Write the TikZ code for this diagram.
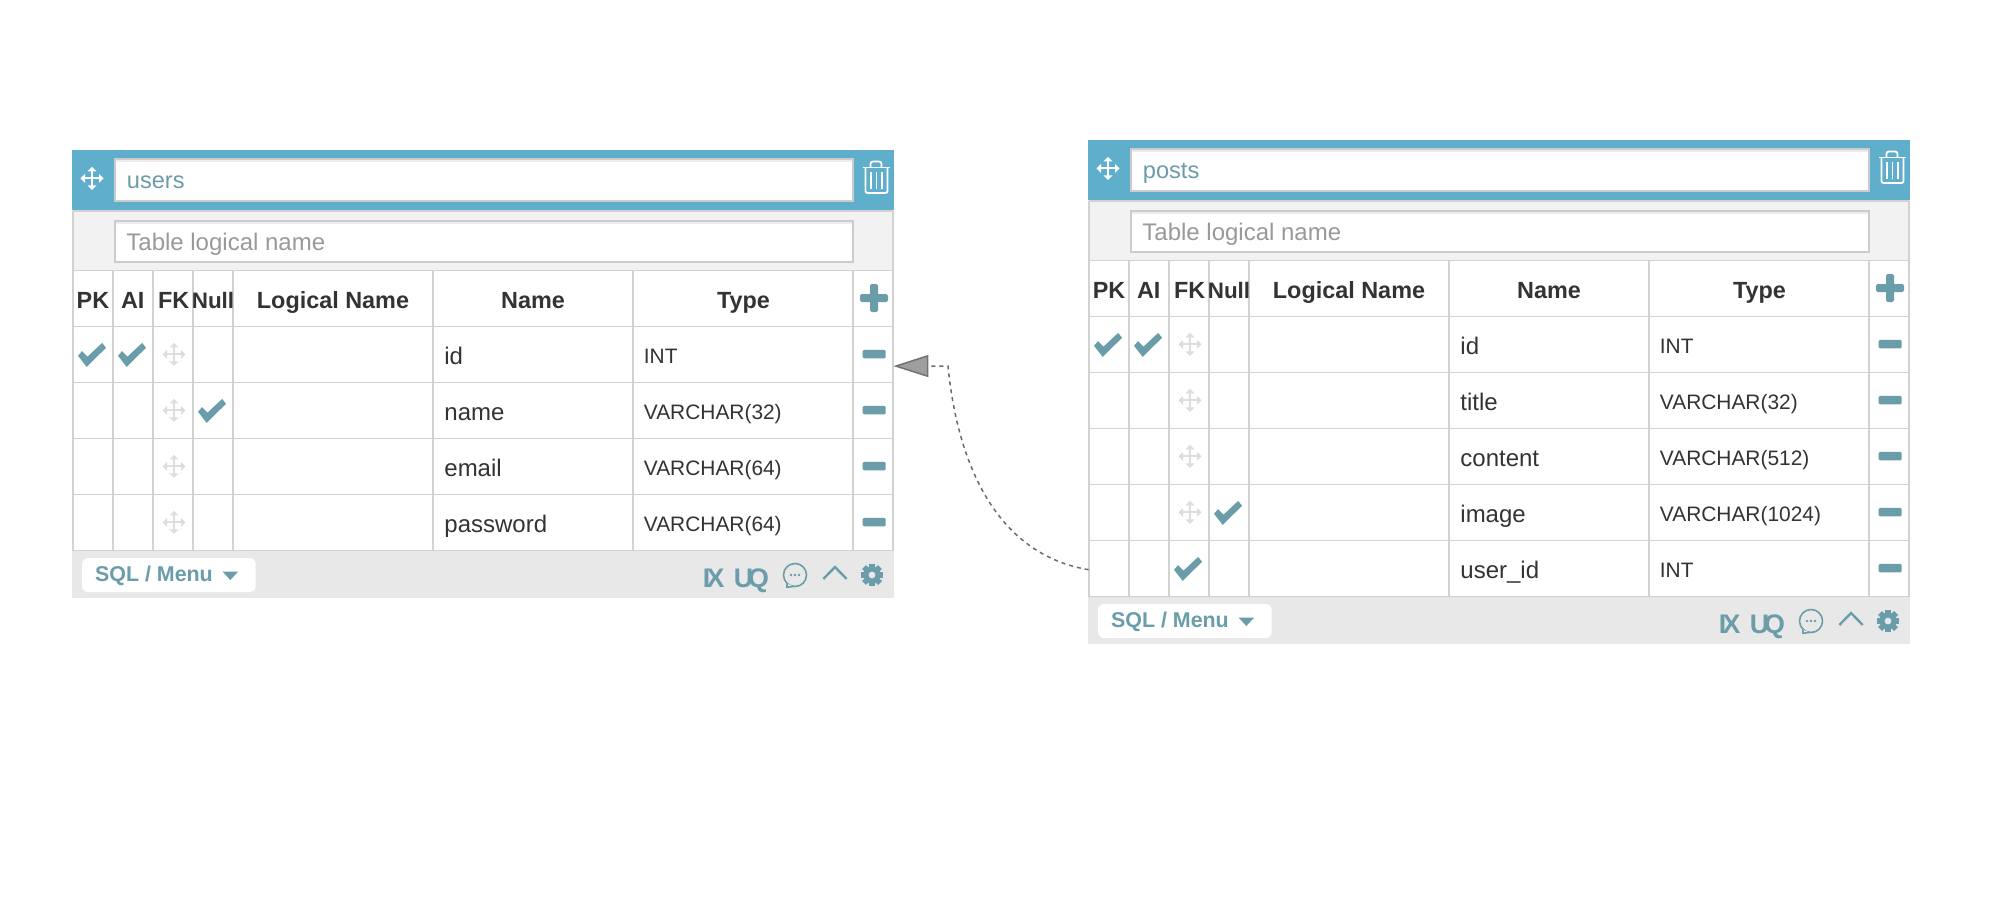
\documentclass[tikz,border=0pt]{standalone}
\usepackage{fontspec}
\setmainfont{Liberation Sans}
\usetikzlibrary{arrows.meta}
\definecolor{barblue}{HTML}{5FAECB}
\definecolor{tealink}{HTML}{6A9DA9}
\definecolor{gridgrey}{HTML}{D2D2D2}
\definecolor{inkdark}{HTML}{333333}
\definecolor{holdergrey}{HTML}{999999}
\definecolor{subbg}{HTML}{F2F2F2}
\definecolor{footbg}{HTML}{E8E8E8}
\definecolor{moveicon}{HTML}{DDDDDD}
\definecolor{inputline}{HTML}{CCCCCC}
\definecolor{inputshade}{HTML}{ECECEC}
\tikzset{
  gridline/.style={draw=gridgrey,line width=.75pt},
  inputbox/.style={fill=white,draw=inputline,line width=1pt},
  lefttext/.style={inner sep=0pt,anchor=base west,text=inkdark},
  midtext/.style={inner sep=0pt,anchor=base,text=inkdark},
  headfont/.style={font=\fontsize{11.7pt}{13pt}\selectfont\bfseries},
  nullfont/.style={font=\fontsize{11.2pt}{13pt}\selectfont\bfseries},
  bodyfont/.style={font=\fontsize{12pt}{14pt}\selectfont},
  typefont/.style={font=\fontsize{10.45pt}{13pt}\selectfont},
  inputfont/.style={font=\fontsize{11.8pt}{14pt}\selectfont},
  holderfont/.style={font=\fontsize{12pt}{14pt}\selectfont},
  tealbold/.style={inner sep=0pt,anchor=base west,text=tealink,font=\fontsize{13.4pt}{15pt}\selectfont\bfseries},
  rowbox/.style={inner sep=0pt,minimum width=410pt,minimum height=28pt},
  relation/.style={draw=black!58,line width=.75pt,dash pattern=on 2pt off 2pt},
}
% four-way arrow icon
\newcommand{\moveglyph}[3]{%
  \begin{scope}[shift={(#1,#2)}]
    \fill[#3] (-9,-1) rectangle (9,1);
    \fill[#3] (-1,-9) rectangle (1,9);
    \fill[#3] (-11.5,0) -- (-7,-4.5) -- (-7,4.5) -- cycle;
    \fill[#3] (11.5,0) -- (7,-4.5) -- (7,4.5) -- cycle;
    \fill[#3] (0,-11.5) -- (-4.5,-7) -- (4.5,-7) -- cycle;
    \fill[#3] (0,11.5) -- (-4.5,7) -- (4.5,7) -- cycle;
  \end{scope}}
% check mark: given top-left corner
\newcommand{\checkglyph}[2]{%
  \fill[tealink,shift={(#1,#2)}] (0,12.7) -- (4,8) -- (9.5,13.5) -- (24.2,-.2) -- (28,4.7) -- (8.7,23.8) -- cycle;}
\newcommand{\minusglyph}[2]{%
  \fill[tealink,rounded corners=.6pt] (#1-11.5,#2-4.2) rectangle (#1+11.5,#2+4.2);}
\newcommand{\plusglyph}[2]{%
  \fill[tealink,rounded corners=.8pt] (#1-14,#2-4) rectangle (#1+14,#2+4);
  \fill[tealink,rounded corners=.8pt] (#1-4,#2-14) rectangle (#1+4,#2+14);}
\newcommand{\trashglyph}{%
  \begin{scope}[white,line width=.9pt]
    \draw (862.5,167.5) -- (890,167.5);
    \draw[rounded corners=1.2pt] (870.5,167) -- (870.5,161.5) -- (881.5,161.5) -- (881.5,167);
    \draw[rounded corners=1pt] (865.5,167.5) -- (865.5,193) -- (887.5,193) -- (887.5,167.5);
    \draw (871,172) -- (871,189) (876.5,172) -- (876.5,189) (882,172) -- (882,189);
  \end{scope}}
% one table row: prefix, index, name, type, pk, ai, fk, null
\newcommand{\erow}[8]{%
  \pgfmathsetmacro{\rowtop}{326.7+56*#2}
  \pgfmathsetmacro{\rowmid}{\rowtop+28}
  \pgfmathsetmacro{\rowbase}{\rowmid+9.3}
  \pgfmathsetmacro{\typebase}{\rowmid+8.5}
  \pgfmathsetmacro{\rowchk}{\rowtop+16.4}
  \node[rowbox] (#1-row#2) at (483,\rowmid) {};
  \node[lefttext,bodyfont] (#1-row#2-name) at (444,\rowbase) {#3};
  \node[lefttext,typefont] (#1-row#2-type) at (643.5,\typebase) {#4};
  \ifnum#5=1 \checkglyph{78}{\rowchk}\fi
  \ifnum#6=1 \checkglyph{118}{\rowchk}\fi
  \ifnum#7=1 \checkglyph{158}{\rowchk}\else \moveglyph{174}{\rowmid-0.4}{moveicon}\fi
  \ifnum#8=1 \checkglyph{198}{\rowchk}\fi
  \minusglyph{874.2}{\rowmid-0.6}}
% table frame: prefix, title, number of rows
\newcommand{\etable}[3]{%
  \pgfmathsetmacro{\gridbot}{326.7+56*#3}
  \pgfmathsetmacro{\footbot}{\gridbot+47}
  \fill[barblue] (72,150) rectangle (894,210);
  \fill[subbg] (72,210) rectangle (894,270.7);
  \fill[footbg] (72,\gridbot) rectangle (894,\footbot);
  \draw[gridline] (73,211) -- (893,211);
  \draw[gridline] (73,211) -- (73,\gridbot) (893,211) -- (893,\gridbot);
  \foreach \vx in {113,153,193,233,433,633,853} {\draw[gridline] (\vx,270.7) -- (\vx,\gridbot);}
  \draw[gridline] (73,270.7) -- (893,270.7) (73,326.7) -- (893,326.7);
  \foreach \ri in {1,...,#3} {\draw[gridline] (73,326.7+56*\ri) -- (893,326.7+56*\ri);}
  \draw[inputbox] (115,159) rectangle (853,201);
  \fill[inputshade] (116,160) rectangle (852,162);
  \draw[inputbox] (115,221) rectangle (853,262);
  \fill[inputshade] (116,222) rectangle (852,224);
  \moveglyph{92}{178.3}{white}
  \trashglyph
  \node[lefttext,inputfont,text=tealink] (#1-title) at (126.5,188) {#2};
  \node[lefttext,holderfont,text=holdergrey] (#1-logical) at (126,250) {Table logical name};
  \node[midtext,headfont] (#1-pk) at (93,308.3) {PK};
  \node[midtext,headfont] (#1-ai) at (132.7,308.3) {AI};
  \node[midtext,headfont] (#1-fk) at (173.7,308.3) {FK};
  \node[midtext,nullfont] (#1-null) at (213,308.3) {Null};
  \node[midtext,headfont] (#1-lname) at (333,308.3) {Logical Name};
  \node[midtext,headfont] (#1-pname) at (533,308.3) {Name};
  \node[midtext,headfont] (#1-ptype) at (743.5,308.3) {Type};
  \plusglyph{874}{298}
  \begin{scope}[shift={(0,\gridbot-550.7)}]
    \fill[white,rounded corners=3pt] (82,558) rectangle (255.7,592);
    \node[lefttext,text=tealink,font=\fontsize{10.7pt}{13pt}\selectfont\bfseries] (#1-menu) at (94.7,581.7) {SQL / Menu};
    \fill[tealink] (222.7,571.7) -- (238,571.7) -- (230.3,580) -- cycle;
    \node[tealbold] (#1-ix) at (702.5,587.5) {I\kern-1.9pt X};
    \node[tealbold] (#1-uq) at (733.5,587.5) {U\kern-2.6pt Q};
    \begin{scope}[shift={(795,575)}]
      \draw[tealink,line width=.8pt] (0,0) circle[radius=11.5];
      \draw[tealink,line width=.8pt,fill=footbg,line join=round] (-7.8,8.6) -- (-8.3,12.3) -- (-1.5,11.4);
      \fill[tealink] (-4,0) circle[radius=1.3] (0,0) circle[radius=1.3] (4,0) circle[radius=1.3];
    \end{scope}
    \draw[tealink,line width=1.2pt] (823.3,579) -- (835,567) -- (846.7,579);
    \begin{scope}[shift={(872,575)}]
      \fill[tealink] (0,0) circle[radius=8.5];
      \foreach \ga in {0,45,...,315} {\fill[tealink,rotate=\ga] (-2.8,-11.3) rectangle (2.8,-6);}
      \fill[footbg] (0,0) circle[radius=3.4];
    \end{scope}
  \end{scope}}
\begin{document}
\begin{tikzpicture}[x=.5pt,y=-.5pt]
\useasboundingbox (0,0) rectangle (2000,920);
\fill[white] (0,0) rectangle (2000,920);
% users table
\etable{users}{users}{4}
\erow{users}{0}{id}{INT}{1}{1}{0}{0}
\erow{users}{1}{name}{VARCHAR(32)}{0}{0}{0}{1}
\erow{users}{2}{email}{VARCHAR(64)}{0}{0}{0}{0}
\erow{users}{3}{password}{VARCHAR(64)}{0}{0}{0}{0}
% posts table
\begin{scope}[shift={(1016,-10)}]
\etable{posts}{posts}{5}
\erow{posts}{0}{id}{INT}{1}{1}{0}{0}
\erow{posts}{1}{title}{VARCHAR(32)}{0}{0}{0}{0}
\erow{posts}{2}{content}{VARCHAR(512)}{0}{0}{0}{0}
\erow{posts}{3}{image}{VARCHAR(1024)}{0}{0}{0}{1}
\erow{posts}{4}{user\_id}{INT}{0}{0}{1}{0}
\end{scope}
% relation
\draw[relation,-{Triangle[length=17.5pt,width=11pt,fill=black!38,color=black!55,line width=.75pt]}]
  ([yshift=-.5pt]posts-row4.west) .. controls (1000,555) and (958,470) .. (948,366) -- ([yshift=-5.7pt]users-row0.east);
\end{tikzpicture}
\end{document}
